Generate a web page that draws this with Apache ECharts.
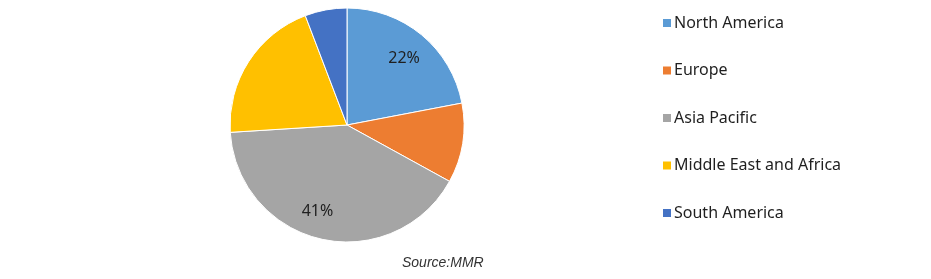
<!DOCTYPE html>
<html><head><meta charset="utf-8">
<script src="https://cdn.jsdelivr.net/npm/echarts@6/dist/echarts.min.js"></script>
<style>html,body{margin:0;padding:0;background:#fff}#c{width:931px;height:279px}</style>
</head><body><div id="c"></div>
<script>
const categories = ['North America','Europe','Asia Pacific','Middle East and Africa','South America'];
const values = [22, 11, 41, 20.2, 5.8];
const colors = ['#5B9BD5','#ED7D31','#A5A5A5','#FFC000','#4472C4'];
const labelled = ['North America','Asia Pacific'];
const sourceText = 'Source:MMR';

const labelShift = {'North America':[0,2], 'Asia Pacific':[-10,-1]};
const data = categories.map((n,i)=>({name:n, value:values[i], itemStyle:{color:colors[i]}}));
const labelData = categories.map((n,i)=>({name:n, value:values[i],
  label:{show: labelled.includes(n), offset: labelShift[n] || [0,0]}}));

const chart = echarts.init(document.getElementById('c'), null, {renderer:'canvas'});
chart.setOption({
  animation:false,
  legend:{
    orient:'vertical', left:656, top:10,
    itemWidth:10, itemHeight:10, itemGap:31.5, icon:'rect',
    textStyle:{fontFamily:'Noto Sans', fontSize:16, color:'#1f1f1f', padding:[0,0,0,-3]},
    data:categories
  },
  graphic:[{type:'text', left:402, top:256,
    style:{text:sourceText, font:'italic 14px "Liberation Sans"', fill:'#333'}}],
  series:[
    {type:'pie', center:[347,125], radius:[0,117], startAngle:90, clockwise:true,
     data:data, label:{show:false}, labelLine:{show:false},
     itemStyle:{borderColor:'#fff', borderWidth:1}, silent:true},
    {type:'pie', center:[347,125], radius:[56,117], startAngle:90, clockwise:true,
     data:labelData, itemStyle:{color:'rgba(0,0,0,0)'}, labelLine:{show:false},
     label:{position:'inside', formatter:p=>Math.round(p.value)+'%',
       fontFamily:'Noto Sans', fontSize:16, color:'#1f1f1f'},
     silent:true, legendHoverLink:false}
  ]
});
</script></body></html>
